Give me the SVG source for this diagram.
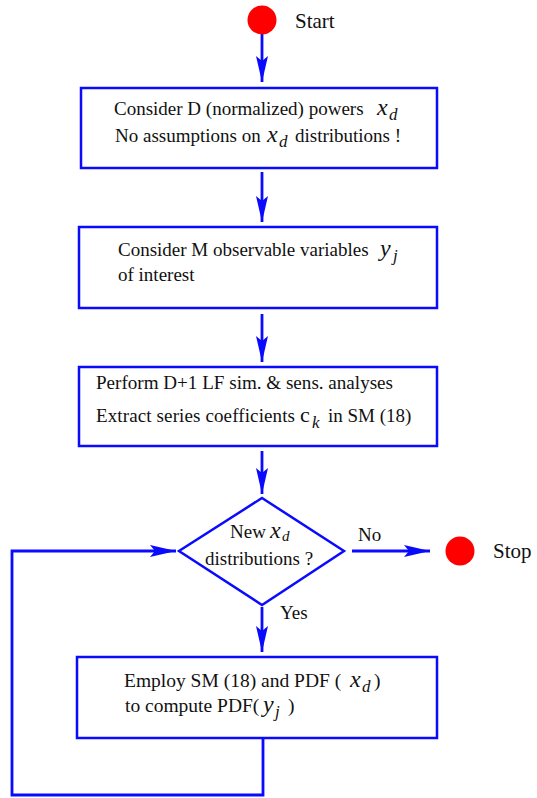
<svg xmlns="http://www.w3.org/2000/svg" width="537" height="798" viewBox="0 0 537 798">
<defs>
<marker id="ah" markerUnits="userSpaceOnUse" markerWidth="30" markerHeight="14" refX="26" refY="7" orient="auto">
<path d="M0,1 L26,7 L0,13 L5,7 Z" fill="#0a0aff"/>
</marker>
<style>
.box{fill:#fff;stroke:#0a0aff;stroke-width:2.5}
.ln{fill:none;stroke:#0a0aff;stroke-width:2.8}
.t{font-family:"Liberation Serif","Times New Roman",serif;font-size:19px;fill:#111}
.m{font-style:italic;font-size:24px}
.s{font-style:italic;font-size:17px}
</style>
</defs>
<rect width="537" height="798" fill="#fff"/>
<g id="connectors">
<line class="ln" x1="262" y1="34" x2="262" y2="82" marker-end="url(#ah)"/>
<line class="ln" x1="262" y1="172" x2="262" y2="222" marker-end="url(#ah)"/>
<line class="ln" x1="262" y1="314" x2="262" y2="362" marker-end="url(#ah)"/>
<line class="ln" x1="262" y1="451" x2="262" y2="494" marker-end="url(#ah)"/>
<line class="ln" x1="352" y1="551" x2="430" y2="551" marker-end="url(#ah)"/>
<line class="ln" x1="262" y1="607" x2="262" y2="652" marker-end="url(#ah)"/>
<polyline class="ln" points="263,738 263,795 12,795 12,551 176,551" marker-end="url(#ah)"/>
<text class="t" x="358" y="541">No</text>
<text class="t" x="280" y="619">Yes</text>
</g>
<g id="start">
<circle cx="262" cy="20" r="14.5" fill="#ff0000"/>
<text class="t" x="295" y="28" style="font-size:21px">Start</text>
</g>
<g id="stop">
<circle cx="460" cy="551" r="14.5" fill="#ff0000"/>
<text class="t" x="493" y="558" style="font-size:21px">Stop</text>
</g>
<g id="box1">
<rect class="box" x="81" y="88" width="356" height="80"/>
<text class="t" x="114" y="115">Consider D (normalized) powers<tspan class="m" x="377">x</tspan><tspan class="s" x="389" dy="5">d</tspan></text>
<text class="t" x="115" y="142">No assumptions on<tspan class="m" x="267">x</tspan><tspan class="s" x="279" dy="5">d</tspan><tspan x="295" dy="-5">distributions !</tspan></text>
</g>
<g id="box2">
<rect class="box" x="79" y="227" width="358" height="81"/>
<text class="t" x="118" y="256">Consider M observable variables<tspan class="m" x="380">y</tspan><tspan class="s" x="393" dy="5">j</tspan></text>
<text class="t" x="118" y="281">of interest</text>
</g>
<g id="box3">
<rect class="box" x="79" y="367" width="358" height="79"/>
<text class="t" x="96" y="389" textLength="297" lengthAdjust="spacingAndGlyphs">Perform D+1 LF sim. &amp; sens. analyses</text>
<text class="t" x="96" y="422"><tspan textLength="199">Extract series coefficients</tspan><tspan x="300" style="font-size:22px">c</tspan><tspan class="s" x="312" dy="6">k</tspan><tspan x="328" dy="-6">in SM (18)</tspan></text>
</g>
<g id="decision">
<polygon class="box" points="262,498 344,551 262,605 179,551"/>
<text class="t" x="230" y="538">New<tspan class="m" x="270">x</tspan><tspan class="s" x="282" dy="3" style="font-size:15px">d</tspan></text>
<text class="t" x="205" y="565">distributions ?</text>
</g>
<g id="box5">
<rect class="box" x="77" y="657" width="360" height="81"/>
<text class="t" x="124" y="687" style="font-size:19.5px">Employ SM (18) and PDF (<tspan class="m" x="350">x</tspan><tspan class="s" x="362" dy="5">d</tspan><tspan x="374" dy="-5">)</tspan></text>
<text class="t" x="125" y="712" style="font-size:19.5px">to compute PDF(<tspan class="m" x="263">y</tspan><tspan class="s" x="275" dy="5">j</tspan><tspan x="288" dy="-5">)</tspan></text>
</g>
</svg>
